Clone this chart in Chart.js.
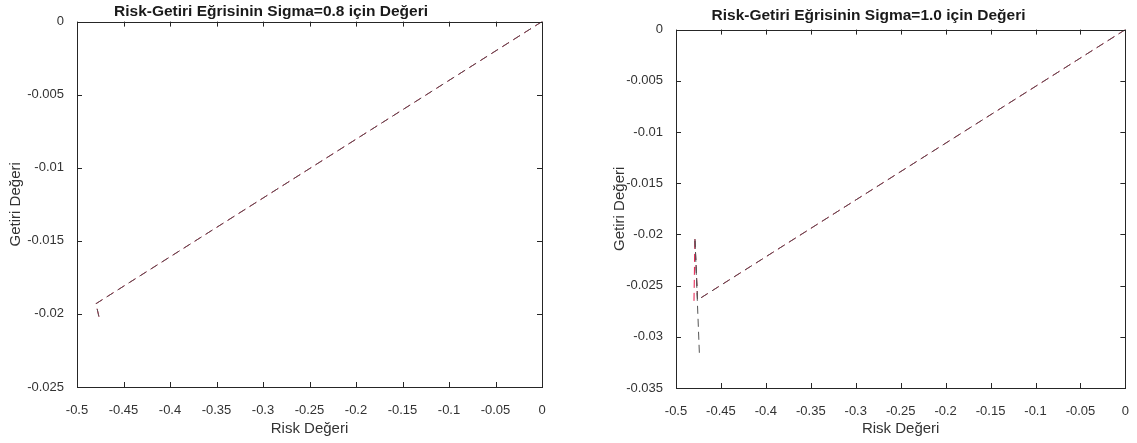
<!DOCTYPE html>
<html>
<head>
<meta charset="utf-8">
<script src="https://cdn.jsdelivr.net/npm/chart.js@4"></script>
<style>
  body { margin: 0; background: #fff; width: 1137px; height: 443px; overflow: hidden; }
  canvas { position: absolute; top: 0; }
  #leftChart { left: 0; }
  #rightChart { left: 604px; }
</style>
</head>
<body>
<canvas id="leftChart" width="570" height="443"></canvas>
<canvas id="rightChart" width="533" height="443"></canvas>
<script>
// Sigma = 0.8
var risk08 = [0, -0.4796, -0.4753];
var getiri08 = [0, -0.0193, -0.0205];
var riskRed08 = [0, -0.4796, -0.4753];
var getiriRed08 = [0, -0.0193, -0.0205];

// Sigma = 1.0
var risk10 = [0, -0.476, -0.479, -0.474];
var getiri10 = [0, -0.0264, -0.0203, -0.0316];
var riskRed10 = [0, -0.476, -0.479, -0.480];
var getiriRed10 = [0, -0.0264, -0.0203, -0.0266];

var xMin = -0.5, xMax = 0, xStep = 0.05;
var yStep = 0.005;

var textColor = "#333333";
var fontName = "'Liberation Sans', Arial, sans-serif";

function toPoints(xs, ys) {
  return xs.map(function (x, i) { return { x: x, y: ys[i] }; });
}

function fmt(v) {
  var s = String(+v.toFixed(4));
  return s === "-0" ? "0" : s;
}

// MATLAB style box with inward ticks
var boxPlugin = {
  id: "box",
  afterDraw: function (chart) {
    var ctx = chart.ctx;
    var a = chart.chartArea;
    var xs = chart.scales.x, ys = chart.scales.y;
    var len = 5;
    ctx.save();
    ctx.strokeStyle = "#262626";
    ctx.lineWidth = 1;
    ctx.beginPath();
    xs.ticks.forEach(function (t) {
      var px = Math.round(xs.getPixelForValue(t.value)) + 0.5;
      ctx.moveTo(px, a.bottom); ctx.lineTo(px, a.bottom - len);
      ctx.moveTo(px, a.top); ctx.lineTo(px, a.top + len);
    });
    ys.ticks.forEach(function (t) {
      var py = Math.round(ys.getPixelForValue(t.value)) + 0.5;
      ctx.moveTo(a.left, py); ctx.lineTo(a.left + len, py);
      ctx.moveTo(a.right, py); ctx.lineTo(a.right - len, py);
    });
    ctx.stroke();
    ctx.strokeRect(Math.round(a.left) + 0.5, Math.round(a.top) + 0.5,
      Math.round(a.right - a.left), Math.round(a.bottom - a.top));
    ctx.restore();
  }
};

function makeChart(id, opts) {
  new Chart(id, {
    type: "scatter",
    data: {
      datasets: [
        {
          data: toPoints(opts.risk, opts.getiri),
          showLine: true,
          borderColor: "#555555",
          borderWidth: 1,
          borderDash: [8, 5],
          pointRadius: 0,
          tension: 0
        },
        {
          data: toPoints(opts.riskRed, opts.getiriRed),
          showLine: true,
          borderColor: "#e6194b",
          borderWidth: 1,
          borderDash: [8, 5],
          pointRadius: 0,
          tension: 0
        }
      ]
    },
    options: {
      responsive: false,
      animation: false,
      devicePixelRatio: 1,
      layout: { padding: { left: 0, right: opts.padRight, top: 0, bottom: 0 } },
      plugins: {
        legend: { display: false },
        tooltip: { enabled: false },
        title: {
          display: true,
          text: opts.title,
          color: "#1a1a1a",
          font: { family: fontName, size: 15.5, weight: "bold" },
          padding: { top: opts.titleTop, bottom: opts.titleBottom }
        }
      },
      scales: {
        x: {
          type: "linear",
          min: xMin,
          max: xMax,
          grid: { display: false },
          border: { display: false },
          ticks: {
            stepSize: xStep,
            color: textColor,
            font: { family: fontName, size: 13 },
            padding: 8,
            maxRotation: 0,
            callback: fmt
          },
          title: {
            display: true,
            text: "Risk Değeri",
            color: textColor,
            font: { family: fontName, size: 15 },
            padding: { top: 0, bottom: 5 }
          },
          afterFit: function (s) { s.height = 443 - opts.bottom; }
        },
        y: {
          type: "linear",
          min: opts.yMin,
          max: 0,
          grid: { display: false },
          border: { display: false },
          ticks: {
            stepSize: yStep,
            color: textColor,
            font: { family: fontName, size: 13 },
            padding: 5,
            callback: fmt
          },
          title: {
            display: true,
            text: "Getiri Değeri",
            color: textColor,
            font: { family: fontName, size: 15 },
            padding: { top: 7, bottom: 0 }
          },
          afterFit: function (s) { s.width = opts.axisWidth; }
        }
      }
    },
    plugins: [boxPlugin]
  });
}

makeChart("leftChart", {
  risk: risk08, getiri: getiri08, riskRed: riskRed08, getiriRed: getiriRed08,
  title: "Risk-Getiri Eğrisinin Sigma=0.8 için Değeri",
  yMin: -0.025, axisWidth: 77, padRight: 28, bottom: 387,
  titleTop: 2, titleBottom: 1
});

makeChart("rightChart", {
  risk: risk10, getiri: getiri10, riskRed: riskRed10, getiriRed: getiriRed10,
  title: "Risk-Getiri Eğrisinin Sigma=1.0 için Değeri",
  yMin: -0.035, axisWidth: 72, padRight: 4, bottom: 388,
  titleTop: 6, titleBottom: 5
});
</script>
</body>
</html>
